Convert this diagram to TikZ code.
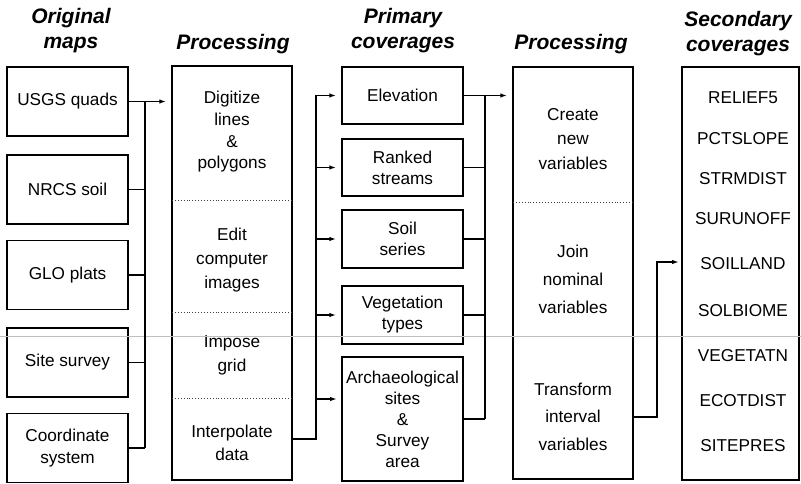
\documentclass[tikz,border=0pt]{standalone}
\usepackage{fontspec}
\setmainfont{Liberation Sans}
\usetikzlibrary{arrows.meta}
\begin{document}
\begin{tikzpicture}[x=1pt,y=-1pt,
  box/.style={draw, line width=1.5pt, inner sep=0pt},
  txt/.style={font=\fontsize{17.2}{22}\selectfont, align=center, inner sep=0pt},
  hdr/.style={font=\fontsize{21}{25}\selectfont\bfseries\itshape, align=center, inner sep=0pt},
  conn/.style={line width=1.9pt},
  arr/.style={conn, -{Latex[length=7pt,width=4.5pt]}, shorten >=5pt},
  divider/.style={dotted, line width=0.9pt, black!75},
  seam/.style={line width=0.6pt, black!25}
]
\useasboundingbox (0,0) rectangle (801,484);

% headers
\node[hdr] (h1) at (71,31) {Original\\maps};
\node[hdr] (h2) at (233,44) {Processing};
\node[hdr] (h3) at (403,31) {Primary\\coverages};
\node[hdr] (h4) at (571,44) {Processing};
\node[hdr] (h5) at (738,34) {Secondary\\coverages};

% original maps
\begin{scope}[every node/.append style={box, txt, minimum width=121pt, minimum height=69pt}]
\node (usgs)  at (67.5,101.5) {USGS quads};
\node (nrcs)  at (67.5,189.5) {NRCS soil};
\node (glo)   at (67.5,275)   {GLO plats};
\node (site)  at (67.5,362.5) {Site survey};
\node (coord) at (67.5,448)   {Coordinate\\system};
\end{scope}

% processing 1
\node[box, minimum width=120pt, minimum height=414pt] (proc1) at (232,273) {};
\draw[divider] (172,200) -- (292,200);
\draw[divider] (172,312) -- (292,312);
\draw[divider] (172,398) -- (292,398);
\node[txt, font=\fontsize{17.2}{21.7}\selectfont] (t11) at (232,132) {Digitize\\lines\\\&\\polygons};
\node[txt, font=\fontsize{17.2}{24}\selectfont] (t12) at (232,260.5) {Edit\\computer\\images};
\node[txt, font=\fontsize{17.2}{24}\selectfont] (t13) at (232,355.5) {Impose\\grid};
\node[txt, font=\fontsize{17.2}{23}\selectfont] (t14) at (232,443) {Interpolate\\data};

% primary coverages
\begin{scope}[every node/.append style={box, txt, minimum width=121pt, font=\fontsize{17.2}{21}\selectfont}]
\node[minimum height=57pt] (elev) at (402.5,95.5) {Elevation};
\node[minimum height=57pt] (rank) at (402.5,167.5) {Ranked\\streams};
\node[minimum height=58pt] (soil) at (402.5,239) {Soil\\series};
\node[minimum height=58pt] (veg)  at (402.5,315) {Vegetation\\types};
\node[minimum height=124pt] (arch) at (402.5,419) {Archaeological\\sites\\\&\\Survey\\area};
\end{scope}

% processing 2
\node[box, minimum width=120pt, minimum height=412pt] (proc2) at (573,273) {};
\draw[divider] (513,202) -- (633,202);
\node[txt, font=\fontsize{17.2}{24.5}\selectfont] (t21) at (573,139) {Create\\new\\variables};
\node[txt, font=\fontsize{17.2}{28}\selectfont] (t22) at (573,279.5) {Join\\nominal\\variables};
\node[txt, font=\fontsize{17.2}{27.5}\selectfont] (t23) at (573,416.5) {Transform\\interval\\variables};

% secondary coverages
\node[box, minimum width=117pt, minimum height=413pt] (sec) at (740.5,273.5) {};
\begin{scope}[every node/.append style={txt, font=\fontsize{17.2}{20}\selectfont}]
\node (s1) at (743,98)  {RELIEF5};
\node (s2) at (743,139) {PCTSLOPE};
\node (s3) at (743,179) {STRMDIST};
\node (s4) at (743,219) {SURUNOFF};
\node (s5) at (743,264) {SOILLAND};
\node (s6) at (743,311) {SOLBIOME};
\node (s7) at (743,356) {VEGETATN};
\node (s8) at (743,401) {ECOTDIST};
\node (s9) at (743,446) {SITEPRES};
\end{scope}

% scan seam
\draw[seam] (0,336.5) -- (801,336.5);

% connectors: original maps -> processing 1
\coordinate (busL) at (145,0);
\draw[arr] (usgs.east) -- (usgs.east -| proc1.west);
\draw[conn] (usgs.east -| busL) -- (coord.east -| busL);
\draw[conn] (nrcs.east) -- (nrcs.east -| busL);
\draw[conn] (glo.east) -- (glo.east -| busL);
\draw[conn] (site.east) -- (site.east -| busL);
\draw[conn] (coord.east) -- (coord.east -| busL);

% processing 1 -> primary coverages
\coordinate (busM) at (316,0);
\coordinate (p1out) at (292,439);
\coordinate (archin) at (342,399);
\draw[conn] (p1out) -- (p1out -| busM) -- (elev.west -| busM);
\draw[arr] (elev.west -| busM) -- (elev.west);
\draw[arr] (rank.west -| busM) -- (rank.west);
\draw[arr] (soil.west -| busM) -- (soil.west);
\draw[arr] (veg.west -| busM) -- (veg.west);
\draw[arr] (archin -| busM) -- (archin);

% primary coverages -> processing 2
\coordinate (busR) at (485,0);
\draw[arr] (elev.east) -- (elev.east -| proc2.west);
\draw[conn] (elev.east -| busR) -- (arch.east -| busR);
\draw[conn] (rank.east) -- (rank.east -| busR);
\draw[conn] (soil.east) -- (soil.east -| busR);
\draw[conn] (veg.east) -- (veg.east -| busR);
\draw[conn] (arch.east) -- (arch.east -| busR);

% processing 2 -> secondary coverages
\coordinate (busS) at (657,0);
\coordinate (p2out) at (633,417);
\coordinate (secin) at (682,262);
\draw[arr, shorten >=3pt] (p2out) -- (p2out -| busS) -- (secin -| busS) -- (secin);
\end{tikzpicture}
\end{document}
